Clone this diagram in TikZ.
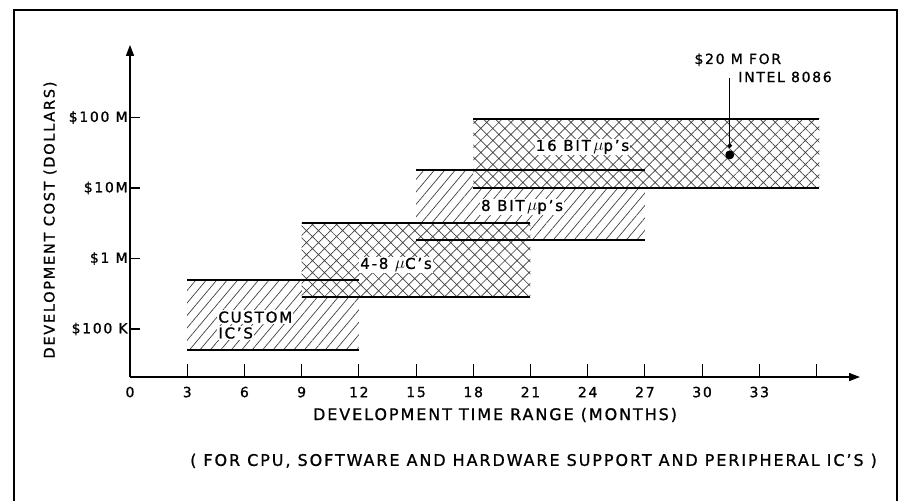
\documentclass[tikz,border=0pt]{standalone}
\usepackage{fontspec}
\setmainfont{DejaVu Sans}[LetterSpace=12, FakeBold=1]
\usetikzlibrary{arrows.meta}
\usetikzlibrary{patterns.meta}
\usetikzlibrary{positioning}

\newcommand{\mup}{{\LARGE$\mu$}}

\begin{document}
\begin{tikzpicture}[x=19.07pt, y=70.5pt, thick, >={Triangle[length=11pt,width=8pt]},
    txt/.style={font=\fontsize{14}{16}\selectfont, inner sep=1pt},
    title/.style={font=\fontsize{16}{18}\selectfont, inner sep=0pt},
    tag/.style={font=\fontsize{15}{17}\selectfont, inner sep=1pt, fill=white},
    axis/.style={line width=1.4pt},
    edge/.style={line width=1.8pt},
    single/.style={pattern={Lines[angle=50,distance=8pt,line width=0.7pt]}, pattern color=black!75},
    cross/.style={preaction={fill=white}, pattern={Hatch[angle=45,distance=8.5pt,line width=0.7pt]}, pattern color=black!75}]
    \useasboundingbox (-6.817,2.560) rectangle (40.430,9.667);

    % Ramka
    \draw[line width=1.6pt] (-6.083,2.560) |- (40.22,9.525) -- (40.22,2.560);

    % Pasy
    \path[single] (3,4.70) rectangle (12,5.70);
    \path[single] (15,6.26) rectangle (27,7.26);
    \path[cross] (9,5.45) rectangle (21,6.50);
    \path[cross] (18,7.00) rectangle (36.15,7.98);
    \foreach \a/\b/\y in {3/12/4.70, 3/12/5.70, 9/21/5.45, 9/21/6.50,
                          15/27/6.26, 15/27/7.26, 18/36.15/7.00, 18/36.15/7.98}
        \draw[edge] (\a,\y) -- (\b,\y);

    % Osie
    \coordinate (corner) at (0,4.319);
    \draw[axis,->] (corner) -- (0,9.03);
    \draw[axis,->] (corner) -- (38.28,4.319);
    \foreach \m in {3,6,...,36}
        \draw[line width=1.1pt] (\m,4.319) -- ++(0,0.18);
    \foreach \m in {0,3,...,33}
        \node[txt] at (\m,4.106) {\m};
    \foreach \L/\t in {5/{\$100 K},6/{\$1 M},7/{\$10M},8/{\$100 M}} {
        \draw[line width=1.1pt] (0,\L) -- ++(0.52,0);
        \node[txt, anchor=east] at (-0.05,\L) {\t};
    }

    % Opisy osi
    \node (timetitle) [title] at (19.14,3.78) {DEVELOPMENT TIME RANGE (MONTHS)};
    \node (note) [title] at (21.16,3.13) {( FOR CPU, SOFTWARE AND HARDWARE SUPPORT AND PERIPHERAL IC'S )};
    \node (costtitle) [title, font=\fontsize{14.5}{16}\selectfont, rotate=90] at (-4.195,6.546) {DEVELOPMENT COST (DOLLARS)};

    % Etykiety pasow
    \node (custom) [tag, anchor=west] at (4.56,5.169) {CUSTOM};
    \node (customic) [tag, anchor=west] at (4.56,4.943) {IC'S};
    \node (micro) [tag] at (13.95,5.908) {4-8 \mup C's};
    \node (eightbit) [tag] at (20.56,6.73) {8 BIT\,\mup p's};
    \node (sixteenbit) [tag] at (23.73,7.582) {16 BIT\,\mup p's};

    % Intel 8086
    \node (dot8086) [circle, fill, inner sep=0pt, minimum size=9pt] at (31.45,7.47) {};
    \node (cost8086) [txt, anchor=west] at (29.53,8.82) {\$20 M FOR};
    \node (intel) [txt, anchor=west] at (31.83,8.575) {INTEL 8086};
    \coordinate (leadtop) at (31.45,8.56);
    \draw[line width=1.1pt, -{Circle[length=4.5pt]}, shorten >=2pt] (leadtop) -- (dot8086.north);
\end{tikzpicture}
\end{document}
